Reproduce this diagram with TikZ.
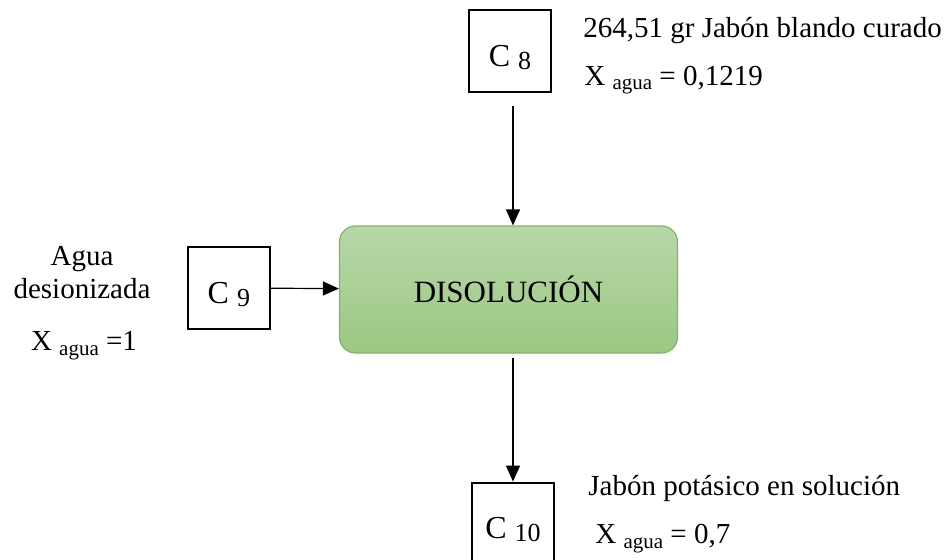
\documentclass[tikz,border=0pt]{standalone}
\usepackage{fontspec}
\setmainfont{Liberation Serif}
\usepackage{tikz}
\usetikzlibrary{positioning,arrows.meta}
\definecolor{dsgreen}{HTML}{82B366}
\definecolor{dstop}{HTML}{B7D8A9}
\definecolor{dsbot}{HTML}{9CC783}
\newcommand\subidx[2]{\raisebox{-#2}{\fontsize{10.5}{10.5}\selectfont #1}}
\newcommand\corrtxt[1]{\raisebox{-7.5pt}[0pt][0pt]{C \raisebox{-1.5pt}{\fontsize{13}{13}\selectfont #1}}}
\tikzset{
  proc/.style={draw=dsgreen,line width=0.6pt,top color=dstop,bottom color=dsbot,rounded corners=8pt,minimum width=169pt,minimum height=63.5pt,font=\fontsize{15.5}{17}\selectfont},
  corr/.style={draw=black,line width=1pt,minimum width=41pt,minimum height=41pt,inner sep=0pt,font=\fontsize{16}{18}\selectfont},
  lbl/.style={inner sep=0pt,font=\fontsize{14.5}{16.5}\selectfont},
  lnk/.style={-{Triangle[length=8pt,width=7pt]},line width=0.6pt,draw=black},
}
\begin{document}
\begin{tikzpicture}[x=0.5pt,y=0.5pt]
  \useasboundingbox (0,0) rectangle (950,559);
  \node[proc] (dis) at (508.5,269.5) {DISOLUCIÓN};
  \node[corr,above=66pt of dis,xshift=0.75pt] (c8) {\corrtxt{8}};
  \node[corr,left=34pt of dis,yshift=0.75pt] (c9) {\corrtxt{9}};
  \node[corr,below=64pt of dis,xshift=2.25pt] (c10) {\corrtxt{10}};
  % corrientes
  \node[lbl,anchor=base west] (c8a) at (583,522) {264,51 gr Jabón blando curado};
  \node[lbl,anchor=base west] (c8b) at (584,474) {X \subidx{agua}{2.5pt} = 0,1219};
  \node[lbl,anchor=base,align=center] (c9a) at (82,261) {Agua\\desionizada};
  \node[lbl,anchor=base] (c9b) at (84,209) {X \subidx{agua}{2.5pt} =1};
  \node[lbl,anchor=base west] (c10a) at (588,64) {Jabón potásico en solución};
  \node[lbl,anchor=base west] (c10b) at (595,16) {X \subidx{agua}{2.5pt} = 0,7};
  \draw[lnk,shorten <=6.5pt] ([xshift=1.5pt]c8.south) -- ([xshift=1.5pt]c8.south |- dis.north);
  \draw[lnk] (c9) -- (dis);
  \draw[lnk,shorten <=2pt] (c10 |- dis.south) -- (c10);
\end{tikzpicture}
\end{document}
